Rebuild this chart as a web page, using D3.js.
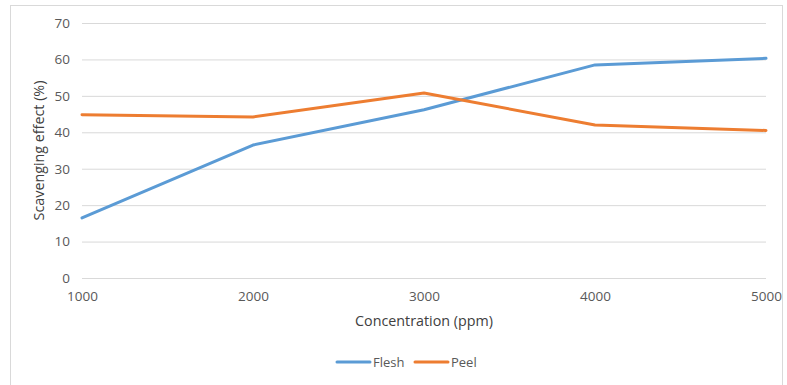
<!DOCTYPE html>
<html>
<head>
<meta charset="utf-8">
<script src="https://cdn.jsdelivr.net/npm/d3@7"></script>
<style>
  html, body { margin: 0; padding: 0; background: #fff; }
  svg { display: block; font-family: "Open Sans", "Noto Sans", sans-serif; }
</style>
</head>
<body>
<svg id="chart" width="787" height="385"></svg>
<script>
// Concentration levels (ppm) and scavenging effect (%) per sample part
const concentrations = [1000, 2000, 3000, 4000, 5000];
const fleshValues = [16.5, 36.5, 46.2, 58.5, 60.3];
const peelValues = [44.8, 44.2, 50.8, 42.0, 40.5];
const yTicks = [0, 10, 20, 30, 40, 50, 60, 70];
const seriesNames = ["Flesh", "Peel"];
const seriesColors = ["#5B9BD5", "#ED7D31"];

const svg = d3.select("#chart");
const margin = { left: 82, right: 21, top: 23, bottom: 107 };
const W = 787, H = 385;

// Chart area outline
svg.append("rect")
  .attr("x", 10.5).attr("y", 5.5)
  .attr("width", 772).attr("height", 385)
  .attr("fill", "#fff").attr("stroke", "#D9D9D9");

const x = d3.scaleLinear().domain([1000, 5000]).range([margin.left, W - margin.right]);
const y = d3.scaleLinear().domain([0, 70]).range([H - margin.bottom, margin.top]);

// Horizontal gridlines with value labels
const yAxis = d3.axisLeft(y).tickValues(yTicks).tickSize(-(x.range()[1] - x.range()[0])).tickPadding(12);
const gy = svg.append("g").attr("transform", `translate(${margin.left},0)`).call(yAxis);
gy.select(".domain").remove();
gy.selectAll(".tick line").attr("stroke", "#D9D9D9").attr("stroke-width", 1);
gy.selectAll(".tick text").attr("fill", "#595959").style("font-size", "13.5px")
  .style("font-family", "'Open Sans', sans-serif");

// Category labels along the bottom
const xAxis = d3.axisBottom(x).tickValues(concentrations).tickSize(0).tickPadding(13).tickFormat(d3.format("d"));
const gx = svg.append("g").attr("transform", `translate(0,${y(0)})`).call(xAxis);
gx.select(".domain").remove();
gx.selectAll(".tick text").attr("fill", "#595959").style("font-size", "13.5px")
  .style("font-family", "'Open Sans', sans-serif");

// Axis titles
svg.append("text")
  .attr("x", (x.range()[0] + x.range()[1]) / 2).attr("y", 326)
  .attr("text-anchor", "middle").attr("fill", "#404040")
  .style("font-size", "14.3px").text("Concentration (ppm)");

svg.append("text")
  .attr("transform", `translate(44,${(y(0) + y(70)) / 2}) rotate(-90)`)
  .attr("text-anchor", "middle").attr("fill", "#404040")
  .style("font-size", "14.3px").text("Scavenging effect (%)");

// Series lines
const line = d3.line().x((d, i) => x(concentrations[i])).y(d => y(d));
[fleshValues, peelValues].forEach((vals, i) => {
  svg.append("path").datum(vals)
    .attr("d", line)
    .attr("fill", "none")
    .attr("stroke", seriesColors[i])
    .attr("stroke-width", 3)
    .attr("stroke-linejoin", "round")
    .attr("stroke-linecap", "round");
});

// Legend
const legendX = [337, 415];
seriesNames.forEach((name, i) => {
  const g = svg.append("g").attr("transform", `translate(${legendX[i]},362)`);
  g.append("line").attr("x1", 0).attr("x2", 33).attr("y1", 0).attr("y2", 0)
    .attr("stroke", seriesColors[i]).attr("stroke-width", 3).attr("stroke-linecap", "round");
  g.append("text").attr("x", 36).attr("y", 5).attr("fill", "#595959")
    .style("font-size", "13px").text(name);
});
</script>
</body>
</html>
